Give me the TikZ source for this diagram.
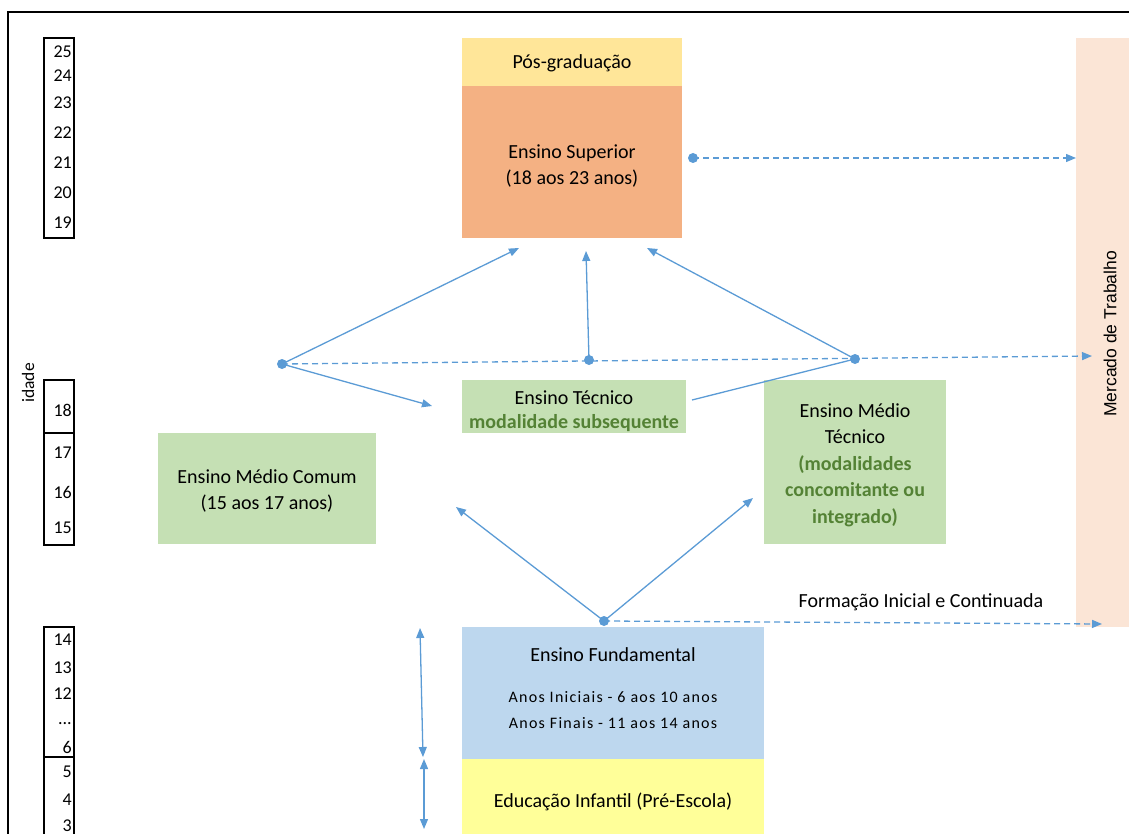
\documentclass[tikz,border=0pt]{standalone}
\usepackage{fontspec}
\setmainfont{Carlito}
\newfontfamily\arialf{Liberation Sans}
\newfontfamily\spacedf[LetterSpace=8]{Carlito}
\usetikzlibrary{arrows.meta}
\definecolor{conn}{HTML}{5B9BD5}
\definecolor{posg}{HTML}{FFE699}
\definecolor{sup}{HTML}{F4B183}
\definecolor{merc}{HTML}{FBE5D6}
\definecolor{verde}{HTML}{C5E0B4}
\definecolor{verdet}{HTML}{548235}
\definecolor{azul}{HTML}{BDD7EE}
\definecolor{amar}{HTML}{FFFF99}
\tikzset{
  box/.style={draw=none, inner sep=0pt, anchor=north west},
  agebox/.style={draw=black, line width=2pt},
  agenum/.style={anchor=east, inner sep=0pt, font=\fontsize{18}{20}\selectfont},
  lbl/.style={inner sep=0pt, align=center, font=\fontsize{20}{26.5}\selectfont},
  small/.style={inner sep=0pt, font=\spacedf\fontsize{16}{20}\selectfont},
  gbold/.style={text=verdet, font=\bfseries\fontsize{20}{26.5}\selectfont},
  dot/.style={circle, fill=conn, draw=none, minimum size=10pt, inner sep=0pt},
  conline/.style={draw=conn, line width=1.3pt},
  conarrow/.style={conline, -{Triangle[length=10pt,width=8pt]}},
  dasharrow/.style={conline, dash pattern=on 6pt off 4pt, -{Triangle[length=10pt,width=8pt]}},
  dblarrow/.style={conline, {Triangle[length=10pt,width=8pt]}-{Triangle[length=10pt,width=8pt]}}
}
\begin{document}
\begin{tikzpicture}[x=1pt,y=-1pt]
\useasboundingbox (0,0) rectangle (1129,834);
% frame
\draw[line width=2pt] (8,845) -- (8,12) -- (1140,12);

% age column
\draw[agebox] (44,38) rectangle (74,238);
\node[agenum] (a25) at (72,52) {25};
\node[agenum] (a24) at (72,76) {24};
\node[agenum] (a23) at (72,103) {23};
\node[agenum] (a22) at (72,133) {22};
\node[agenum] (a21) at (72,163) {21};
\node[agenum] (a20) at (72,193) {20};
\node[agenum] (a19) at (72,223) {19};

\node[rotate=90, inner sep=0pt, font=\fontsize{17.5}{20}\selectfont] (idade) at (28,383) {idade};

\draw[agebox] (44,380) rectangle (74,433);
\draw[agebox] (44,433) rectangle (74,545);
\node[agenum] (a18) at (72,410) {18};
\node[agenum] (a17) at (72,453) {17};
\node[agenum] (a16) at (72,492) {16};
\node[agenum] (a15) at (72,528) {15};

\draw[agebox] (44,627) rectangle (74,757);
\draw[agebox] (44,757) rectangle (74,850);
\node[agenum] (a14) at (72,640) {14};
\node[agenum] (a13) at (72,668) {13};
\node[agenum] (a12) at (72,694) {12};
\node[agenum] (adots) at (72,724) {...};
\node[agenum] (a6) at (72,747) {6};
\node[agenum] (a5) at (72,772) {5};
\node[agenum] (a4) at (72,800) {4};
\node[agenum] (a3) at (72,826) {3};

% boxes
\node[box, fill=posg, minimum width=220pt, minimum height=48pt] (pos) at (462,38) {};
\node[lbl] (post) at (572,63) {Pós-graduação};
\node[box, fill=sup, minimum width=220pt, minimum height=152pt] (sup) at (462,86) {};
\node[lbl] (supt) at (572,166) {Ensino Superior\\(18 aos 23 anos)};

\node[box, fill=merc, minimum width=60pt, minimum height=589pt] (merc) at (1076,38) {};
\node[rotate=90, inner sep=0pt, font=\arialf\fontsize{17.5}{20}\selectfont] (merct) at (1110,334) {Mercado de Trabalho};

\node[box, fill=verde, minimum width=224pt, minimum height=53pt] (tec) at (462,380) {};
\node[lbl, font=\fontsize{20}{24}\selectfont] (tect) at (574,411) {Ensino Técnico\\{\color{verdet}\bfseries modalidade subsequente}};
\node[box, fill=verde, minimum width=182pt, minimum height=164pt] (mtec) at (764,380) {};
\node[lbl] (mtect) at (855,465) {Ensino Médio\\Técnico\\{\color{verdet}\bfseries (modalidades}\\{\color{verdet}\bfseries concomitante ou}\\{\color{verdet}\bfseries integrado)}};
\node[box, fill=verde, minimum width=218pt, minimum height=111pt] (mcom) at (158,433) {};
\node[lbl] (mcomt) at (267,491) {Ensino Médio Comum\\(15 aos 17 anos)};

\node[box, fill=azul, minimum width=302pt, minimum height=132pt] (fund) at (462,627) {};
\node[lbl] (fundt) at (613,655) {Ensino Fundamental};
\node[small] (ini) at (613,697) {Anos Iniciais - 6 aos 10 anos};
\node[small] (fin) at (613,723) {Anos Finais - 11 aos 14 anos};
\node[box, fill=amar, minimum width=302pt, minimum height=90pt] (inf) at (462,759) {};
\node[lbl] (inft) at (613,802) {Educação Infantil (Pré-Escola)};

\node[lbl] (fic) at (921,602) {Formação Inicial e Continuada};

% dots
\node[dot] (d1) at (693,158) {};
\node[dot] (d2) at (282,364) {};
\node[dot] (d3) at (589,360) {};
\node[dot] (d4) at (855,359) {};
\node[dot] (d5) at (604,621) {};

% endpoints
\coordinate (t1) at (1076,158);
\coordinate (t2) at (1092,356);
\coordinate (t3) at (1102,624);
\coordinate (s1) at (519,248);
\coordinate (s2) at (586,251);
\coordinate (s3) at (647,248);
\coordinate (et) at (432,406);
\coordinate (etr) at (692,400);
\coordinate (mc) at (456,507);
\coordinate (mt) at (753,498);
\coordinate (f1) at (420,628);
\coordinate (f2) at (423,757);
\coordinate (i1) at (424,759);
\coordinate (i2) at (424,829);

% connectors
\draw[dasharrow] (d1.center) -- (t1);
\draw[dasharrow] (d2.center) -- (t2);
\draw[dasharrow] (d5.center) -- (t3);
\draw[conarrow] (d2.center) -- (s1);
\draw[conarrow] (d2.center) -- (et);
\draw[conarrow] (d3.center) -- (s2);
\draw[conarrow] (d4.center) -- (s3);
\draw[conline] (etr) -- (d4.center);
\draw[conarrow] (d5.center) -- (mc);
\draw[conarrow] (d5.center) -- (mt);
\draw[dblarrow] (f1) -- (f2);
\draw[dblarrow] (i1) -- (i2);
\end{tikzpicture}
\end{document}
